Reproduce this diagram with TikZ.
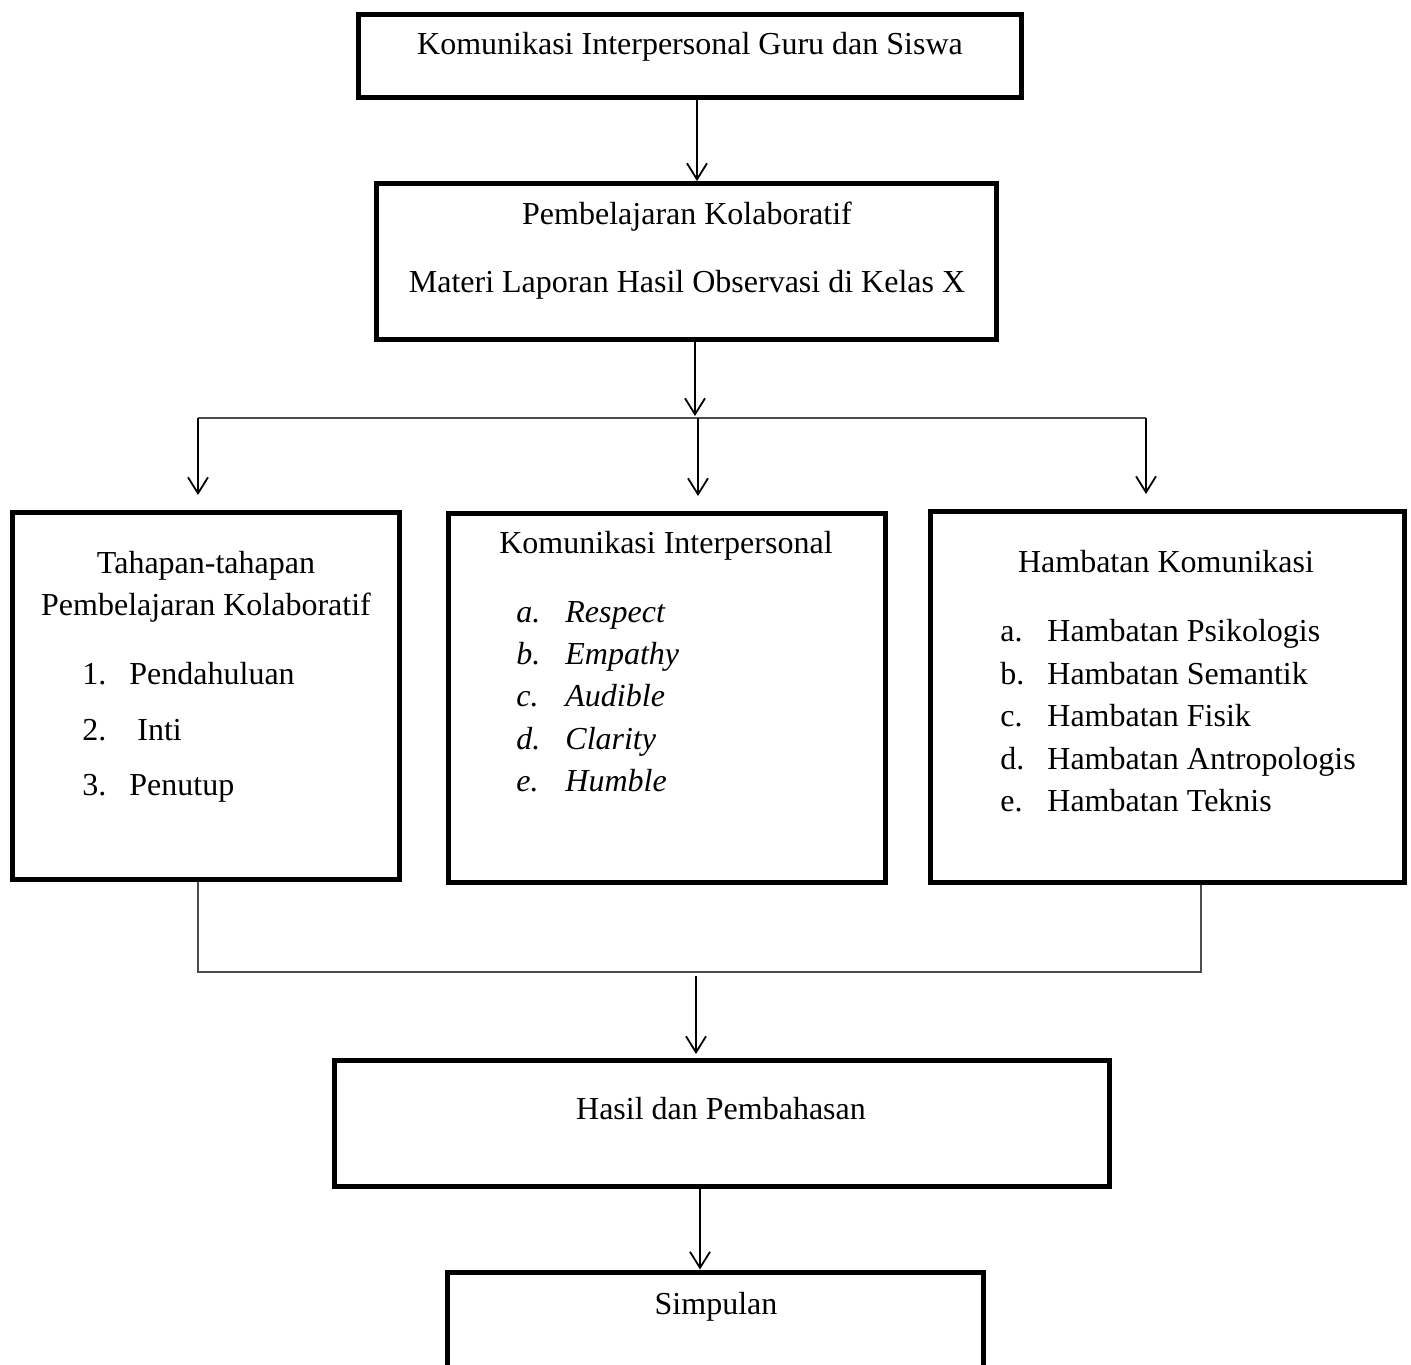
\documentclass[tikz,border=0pt]{standalone}
\usepackage{fontspec}
\setmainfont{Liberation Serif}
\usetikzlibrary{arrows.meta}
\begin{document}
\begin{tikzpicture}[x=0.5pt,y=-0.5pt,
  box/.style={draw, line width=2.5pt, inner sep=0pt},
  arr/.style={-{Straight Barb[length=8pt,width=10pt]}, line width=0.9pt},
  conn/.style={line width=0.75pt, draw=black!70},
  txt/.style={anchor=base, inner sep=0pt, font=\fontsize{16}{19}\selectfont},
  lbl/.style={anchor=base west, inner sep=0pt, font=\fontsize{16}{19}\selectfont},
  ilbl/.style={lbl, font=\fontsize{16}{19}\selectfont\itshape}]
\clip (0,0) rectangle (1411,1364);
\fill[white] (0,0) rectangle (1411,1364);
% boxes
\node[box, minimum width=331.5pt, minimum height=41.5pt] (b1) at (690,56) {};
\node[box, minimum width=310pt, minimum height=78pt] (b2) at (686.5,261.5) {};
\node[box, minimum width=193.5pt, minimum height=183.5pt] (b3) at (206,696) {};
\node[box, minimum width=218.5pt, minimum height=184.5pt] (b4) at (667,698) {};
\node[box, minimum width=237pt, minimum height=185.5pt] (b5) at (1167.5,697) {};
\node[box, minimum width=387.5pt, minimum height=63pt] (b6) at (722,1123.5) {};
\node[box, minimum width=268pt, minimum height=150pt] (b7) at (715.5,1422) {};
% texts
\node[txt] (t1) at (690,55) {Komunikasi Interpersonal Guru dan Siswa};
\node[txt] (t2a) at (687,224) {Pembelajaran Kolaboratif};
\node[txt] (t2b) at (687,292) {Materi Laporan Hasil Observasi di Kelas X};
\node[txt] (t3a) at (206,573) {Tahapan-tahapan};
\node[txt] (t3b) at (206,615) {Pembelajaran Kolaboratif};
\node[lbl] (n31) at (82,684) {1.};
\node[lbl] (l31) at (129,684) {Pendahuluan};
\node[lbl] (n32) at (82,740) {2.};
\node[lbl] (l32) at (137,740) {Inti};
\node[lbl] (n33) at (82,795) {3.};
\node[lbl] (l33) at (129,795) {Penutup};
\node[txt] (t4) at (666,553) {Komunikasi Interpersonal};
\node[ilbl] (n41) at (516,622) {a.};
\node[ilbl] (l41) at (565,622) {Respect};
\node[ilbl] (n42) at (516,664) {b.};
\node[ilbl] (l42) at (565,664) {Empathy};
\node[ilbl] (n43) at (516,706) {c.};
\node[ilbl] (l43) at (565,706) {Audible};
\node[ilbl] (n44) at (516,749) {d.};
\node[ilbl] (l44) at (565,749) {Clarity};
\node[ilbl] (n45) at (516,791) {e.};
\node[ilbl] (l45) at (565,791) {Humble};
\node[txt] (t5) at (1166,572) {Hambatan Komunikasi};
\node[lbl] (n51) at (1000,641) {a.};
\node[lbl] (l51) at (1047,641) {Hambatan Psikologis};
\node[lbl] (n52) at (1000,684) {b.};
\node[lbl] (l52) at (1047,684) {Hambatan Semantik};
\node[lbl] (n53) at (1000,726) {c.};
\node[lbl] (l53) at (1047,726) {Hambatan Fisik};
\node[lbl] (n54) at (1000,769) {d.};
\node[lbl] (l54) at (1047,769) {Hambatan Antropologis};
\node[lbl] (n55) at (1000,811) {e.};
\node[lbl] (l55) at (1047,811) {Hambatan Teknis};
\node[txt] (t6) at (721,1119) {Hasil dan Pembahasan};
\node[txt] (t7) at (716,1314) {Simpulan};
% coordinates
\coordinate (x1) at (697,0);
\coordinate (x2) at (695,0);
\coordinate (j2) at (695,416);
\coordinate (bl) at (198,418);
\coordinate (bm) at (698,418);
\coordinate (br) at (1146,418);
\coordinate (jl) at (198,972);
\coordinate (jm) at (696,972);
\coordinate (jr) at (1201,972);
\coordinate (x6) at (700,0);
% connectors
\draw[arr] (b1.south -| x1) -- (b2.north -| x1);
\draw[arr] (b2.south -| x2) -- (j2);
\draw[conn] (bl) -- (br);
\draw[arr, shorten >=7.5pt] (bl) -- (b3.north -| bl);
\draw[arr, shorten >=7.5pt] (bm) -- (b4.north -| bm);
\draw[arr, shorten >=7.5pt] (br) -- (b5.north -| br);
\draw[conn] (b3.south -| jl) -- (jl) -- (jr) -- (b5.south -| jr);
\draw[arr, shorten >=2pt] ([yshift=-2pt]jm) -- (b6.north -| jm);
\draw[arr] (b6.south -| x6) -- (b7.north -| x6);
\end{tikzpicture}
\end{document}
